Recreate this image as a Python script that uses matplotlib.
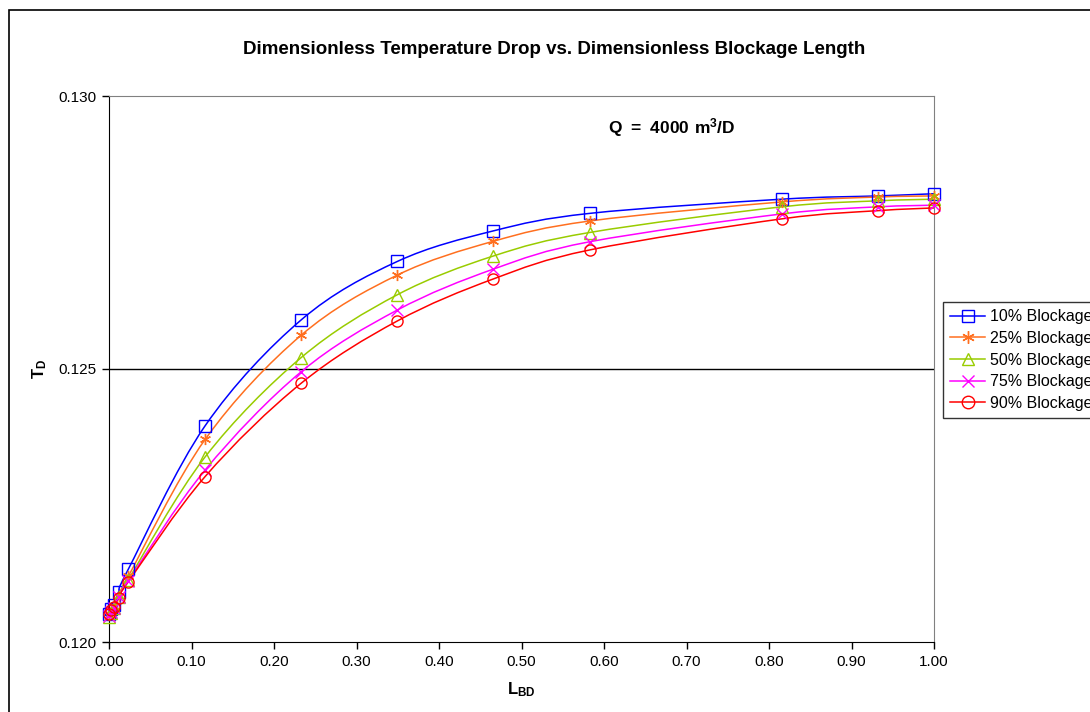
import numpy as np
import matplotlib
matplotlib.use("Agg")
import matplotlib.pyplot as plt
from matplotlib.path import Path
from matplotlib.patches import PathPatch, Rectangle
from matplotlib.lines import Line2D

plt.rcParams['font.family'] = ['Liberation Sans', 'DejaVu Sans']
plt.rcParams['mathtext.fontset'] = 'custom'
plt.rcParams['mathtext.rm'] = 'Liberation Sans'
plt.rcParams['mathtext.bf'] = 'Liberation Sans:bold'

# dimensionless blockage length
l_bd = [0.0, 0.0023, 0.0058, 0.0117, 0.0233, 0.1165, 0.233, 0.3495,
        0.466, 0.5825, 0.8155, 0.932, 1.0]

td_10 = [0.12052, 0.12060, 0.12068, 0.12092, 0.12133, 0.12396, 0.12590,
         0.12697, 0.12753, 0.12785, 0.12811, 0.12817, 0.12821]
td_25 = [0.12050, 0.12058, 0.12066, 0.12085, 0.12120, 0.12371, 0.12562,
         0.12672, 0.12734, 0.12771, 0.12806, 0.12815, 0.12817]
td_50 = [0.12045, 0.12053, 0.12062, 0.12083, 0.12114, 0.12339, 0.12521,
         0.12636, 0.12707, 0.12750, 0.12797, 0.12808, 0.12811]
td_75 = [0.12048, 0.12055, 0.12063, 0.12082, 0.12112, 0.12315, 0.12495,
         0.12608, 0.12683, 0.12733, 0.12784, 0.12797, 0.12800]
td_90 = [0.12052, 0.12058, 0.12064, 0.12081, 0.12110, 0.12303, 0.12474,
         0.12588, 0.12665, 0.12718, 0.12775, 0.12790, 0.12795]

labels = ['10% Blockage', '25% Blockage', '50% Blockage', '75% Blockage', '90% Blockage']
colors = ['#0000FF', '#FF6F1F', '#99CC00', '#FF00FF', '#FF0000']
markers = ['s', (6, 2, 0), '^', 'x', 'o']
series = [td_10, td_25, td_50, td_75, td_90]


def smooth_path(x, y):
    # Excel-style smoothed line as cubic bezier segments
    x = np.asarray(x)
    y = np.asarray(y)
    pts = np.column_stack([x, y])
    n = len(pts)
    verts = [pts[0]]
    codes = [Path.MOVETO]
    for i in range(n - 1):
        p0 = pts[i - 1] if i > 0 else pts[i]
        p1 = pts[i]
        p2 = pts[i + 1]
        p3 = pts[i + 2] if i + 2 < n else pts[i + 1]
        c1 = p1 + (p2 - p0) / 6.0
        c2 = p2 - (p3 - p1) / 6.0
        verts += [c1, c2, p2]
        codes += [Path.CURVE4] * 3
    return Path(verts, codes)


fig = plt.figure(figsize=(10.9, 7.12), dpi=100)
ax = fig.add_axes([109 / 1090, 1 - 642 / 712, (934 - 109) / 1090, (642 - 96) / 712])

for vals, c, m, lab in zip(series, colors, markers, labels):
    ax.add_patch(PathPatch(smooth_path(l_bd, vals), facecolor='none',
                           edgecolor=c, lw=1.1, zorder=3))
    ax.plot(l_bd, vals, linestyle='none', marker=m, markersize=8,
            markerfacecolor='none', markeredgecolor=c, markeredgewidth=1.0,
            zorder=4, clip_on=False)

ax.set_xlim(0, 1.0)
ax.set_ylim(0.120, 0.130)
ax.set_xticks(np.arange(0, 1.01, 0.1))
ax.set_xticklabels(['%.2f' % v for v in np.arange(0, 1.01, 0.1)])
ax.set_yticks([0.120, 0.125, 0.130])
ax.set_yticklabels(['0.120', '0.125', '0.130'])
ax.tick_params(direction='out', length=5, width=1, labelsize=11, pad=4)
ax.axhline(0.125, color='black', lw=1, zorder=1)

for s in ['top', 'right']:
    ax.spines[s].set_color('#808080')
for s in ['left', 'bottom']:
    ax.spines[s].set_color('black')

fig.text(554 / 1090, 1 - 49 / 712,
         'Dimensionless Temperature Drop vs. Dimensionless Blockage Length',
         ha='center', va='center', fontsize=13.5, fontweight='bold')
fig.text(672 / 1090, 1 - 128 / 712, r'$\mathbf{Q\ =\ 4000\ m^3/D}$',
         ha='center', va='center', fontsize=12.5)
fig.text(40 / 1090, 1 - 369 / 712, r'$\mathbf{T_D}$', rotation=90,
         ha='center', va='center', fontsize=12)
fig.text(521 / 1090, 1 - 690 / 712, r'$\mathbf{L_{BD}}$',
         ha='center', va='center', fontsize=12)

# outer chart border (cut off on the right and bottom)
fig.patches.append(Rectangle((9 / 1090, -0.1), 1.2, 1.1 - 10 / 712, fill=False,
                             edgecolor='black', lw=1.2, transform=fig.transFigure))

handles = [Line2D([], [], color=c, marker=m, markersize=9, markerfacecolor='none',
                  markeredgecolor=c, lw=1.1) for c, m in zip(colors, markers)]
leg = fig.legend(handles, labels, loc='upper left',
                 bbox_to_anchor=(943 / 1090, 1 - 302 / 712), fontsize=11.5,
                 frameon=True, fancybox=False, edgecolor='black',
                 handlelength=2.2, handletextpad=0.3, labelspacing=0.42,
                 borderpad=0.45, borderaxespad=0)
leg.get_frame().set_linewidth(1.0)

fig.savefig('out.png', dpi=100)
